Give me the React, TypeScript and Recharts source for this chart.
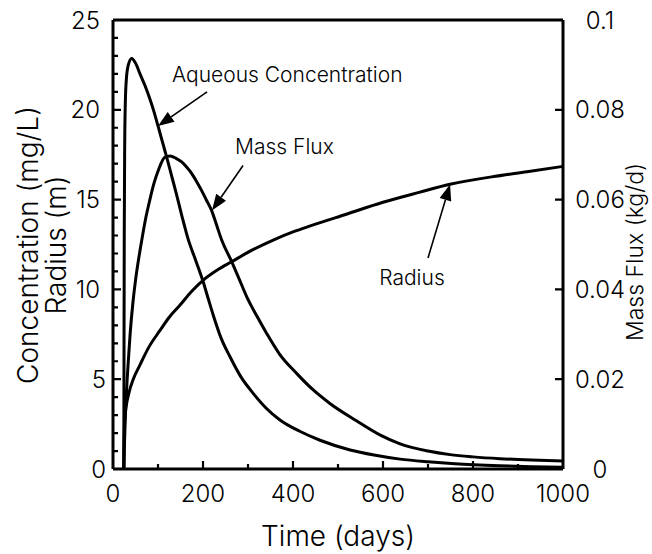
import React from 'react';
import { LineChart, Line, XAxis, YAxis, ReferenceLine } from 'recharts';

// Aqueous concentration (mg/L) vs time (days)
const aqueousTime = [24, 24.5, 25, 26, 27.5, 30, 34, 41.5, 50, 60, 71, 82, 91, 100, 110, 120, 130, 140, 153, 167, 184, 200.7, 212, 223, 240, 260, 285, 312, 340, 371, 415, 460, 527, 580, 638, 700, 760, 860, 930, 1000];
const aqueousConc = [0, 7, 13, 18, 20.5, 21.8, 22.5, 22.86, 22.6, 22.0, 21.35, 20.6, 19.9, 19.1, 18.2, 17.3, 16.35, 15.4, 14.1, 12.8, 11.6, 10.4, 9.45, 8.55, 7.3, 6.25, 5.1, 4.2, 3.4, 2.73, 2.1, 1.6, 1.06, 0.78, 0.55, 0.4, 0.29, 0.18, 0.13, 0.1];

// Mass flux (kg/d) vs time (days)
const fluxTime = [24, 25, 27, 30, 34, 38, 44, 50, 57, 64, 73, 82, 91, 101, 115, 127, 140, 152.6, 164, 175, 186, 197, 208, 219, 230, 241.5, 263.7, 280, 297, 320, 341.5, 370, 408, 445, 482, 540, 593, 638, 700, 749, 800, 860, 930, 1000];
const massFlux = [0, 0.004, 0.0104, 0.0172, 0.024, 0.030, 0.0368, 0.042, 0.0468, 0.051, 0.056, 0.060, 0.0636, 0.0666, 0.0694, 0.0697, 0.0692, 0.0684, 0.0672, 0.0658, 0.064, 0.062, 0.0598, 0.0576, 0.0544, 0.051, 0.0462, 0.0424, 0.0384, 0.034, 0.0302, 0.0256, 0.0213, 0.0176, 0.0146, 0.0108, 0.0076, 0.0056, 0.004, 0.0032, 0.0027, 0.0023, 0.002, 0.0018];

// Radius (m) vs time (days)
const radiusTime = [24, 24.5, 25, 27, 30, 35, 45, 60, 80, 104, 125, 149, 175, 200.7, 230, 263.7, 310, 356, 400, 440, 520, 600, 680, 749, 850, 920, 1000];
const radius = [0, 1.2, 2.0, 3.0, 3.6, 4.2, 5.0, 5.8, 6.8, 7.7, 8.45, 9.13, 9.9, 10.52, 11.05, 11.54, 12.2, 12.75, 13.2, 13.55, 14.2, 14.85, 15.4, 15.85, 16.3, 16.55, 16.85];

const xTicks = [0, 100, 200, 300, 400, 500, 600, 700, 800, 900, 1000];
const xLabelTicks = [0, 200, 400, 600, 800, 1000];
const leftTicks = [0, 1, 2, 3, 4, 5, 6, 7, 8, 9, 10, 11, 12, 13, 14, 15, 16, 17, 18, 19, 20, 21, 22, 23, 24, 25];
const leftLabelTicks = [0, 5, 10, 15, 20, 25];
const rightTicks = [0, 0.02, 0.04, 0.06, 0.08, 0.1];

const X_MAX = xTicks[xTicks.length - 1];
const LEFT_MAX = leftTicks[leftTicks.length - 1];
const RIGHT_MAX = rightTicks[rightTicks.length - 1];

// two reference points well inside the plot, used to map tick values to pixels
const REF_A = { x: xTicks[1], y: leftTicks[5] };
const REF_B = { x: xTicks[9], y: leftTicks[20] };

const aqueousData = aqueousTime.map((t, i) => ({ t, v: aqueousConc[i] }));
const fluxData = fluxTime.map((t, i) => ({ t, v: massFlux[i] }));
const radiusData = radiusTime.map((t, i) => ({ t, v: radius[i] }));

const FONT = 'Inter, "Liberation Sans", sans-serif';
const TEXT = { fontFamily: FONT, fontWeight: 300, fill: '#000' } as const;

const XTick = (props: any) => {
  const { x, y, payload } = props;
  if (!xLabelTicks.includes(payload.value)) return <g />;
  return (
    <text x={x} y={y + 33} textAnchor="middle" fontSize={24} {...TEXT}>
      {payload.value}
    </text>
  );
};

const LeftTick = (props: any) => {
  const { x, y, payload } = props;
  if (!leftLabelTicks.includes(payload.value)) return <g />;
  const gap = String(payload.value).length > 1 ? 13 : 7;
  return (
    <text x={x - gap} y={y + 8.5} textAnchor="end" fontSize={24} {...TEXT}>
      {payload.value}
    </text>
  );
};

const RightTick = (props: any) => {
  const { x, y, payload } = props;
  return (
    <text x={x + 37} y={y + 8.5} textAnchor="middle" fontSize={24} {...TEXT}>
      {payload.value === 0 ? '0' : String(payload.value)}
    </text>
  );
};

// inward tick marks; pixel positions come from the reference segment's two mapped points
const InwardTicks = (props: any) => {
  const { x1, y1, x2, y2 } = props;
  const kx = (x2 - x1) / (REF_B.x - REF_A.x);
  const ky = (y1 - y2) / (REF_B.y - REF_A.y);
  const px = (t: number) => x1 + (t - REF_A.x) * kx;
  const pyL = (v: number) => y1 - (v - REF_A.y) * ky;
  const pyR = (v: number) => pyL((v / RIGHT_MAX) * LEFT_MAX);
  const left = px(0);
  const right = px(X_MAX);
  const bottom = pyL(0);
  const d: string[] = [];
  xTicks.slice(1, -1).forEach((t) => {
    d.push(`M${px(t)},${bottom} V${bottom - (xLabelTicks.includes(t) ? 8 : 5)}`);
  });
  leftTicks.slice(1, -1).forEach((v) => {
    d.push(`M${left},${pyL(v)} H${left + (leftLabelTicks.includes(v) ? 8 : 5)}`);
  });
  rightTicks.slice(1, -1).forEach((v) => {
    d.push(`M${right},${pyR(v)} H${right - 8}`);
  });
  return <path d={d.join(' ')} stroke="#000" strokeWidth={2.2} fill="none" />;
};

const Arrow = (props: any) => {
  const { x1, y1, x2, y2, text, dx, dy, anchor } = props;
  const a = Math.atan2(y2 - y1, x2 - x1);
  const L = 16;
  const W = 6;
  const bx = x2 - L * Math.cos(a);
  const by = y2 - L * Math.sin(a);
  const pts = `${x2},${y2} ${bx + W * Math.sin(a)},${by - W * Math.cos(a)} ${bx - W * Math.sin(a)},${by + W * Math.cos(a)}`;
  return (
    <g>
      <line x1={x1} y1={y1} x2={bx} y2={by} stroke="#000" strokeWidth={1.6} />
      <polygon points={pts} fill="#000" />
      <text x={x1 + dx} y={y1 + dy} textAnchor={anchor} fontSize={21} {...TEXT}>
        {text}
      </text>
    </g>
  );
};

const LeftTitle = () => (
  <g>
    <text transform="translate(38,245) rotate(-90)" textAnchor="middle" fontSize={28} {...TEXT}>
      Concentration (mg/L)
    </text>
    <text transform="translate(66,245) rotate(-90)" textAnchor="middle" fontSize={28} {...TEXT}>
      Radius (m)
    </text>
  </g>
);

const RightTitle = () => (
  <text transform="translate(643,252) rotate(-90)" textAnchor="middle" fontSize={23} {...TEXT}>
    Mass Flux (kg/d)
  </text>
);

const BottomTitle = () => (
  <text x={338} y={546} textAnchor="middle" fontSize={28} {...TEXT}>
    Time (days)
  </text>
);

export default function App() {
  return (
    <div style={{ position: 'absolute', left: 0, top: 0, background: '#fff' }}>
      <LineChart width={652} height={554} margin={{ top: 20, right: 29, bottom: 45, left: 53 }}>
        <XAxis
          dataKey="t"
          type="number"
          domain={[0, X_MAX]}
          ticks={xTicks}
          interval={0}
          tickSize={0}
          tickMargin={0}
          tickLine={false}
          tick={<XTick />}
          height={40}
          axisLine={{ stroke: '#000', strokeWidth: 3 }}
          label={<BottomTitle />}
        />
        <YAxis
          yAxisId="left"
          type="number"
          domain={[0, LEFT_MAX]}
          ticks={leftTicks}
          interval={0}
          tickSize={0}
          tickMargin={0}
          tickLine={false}
          tick={<LeftTick />}
          width={60}
          axisLine={{ stroke: '#000', strokeWidth: 3 }}
          label={<LeftTitle />}
        />
        <YAxis
          yAxisId="right"
          orientation="right"
          type="number"
          domain={[0, RIGHT_MAX]}
          ticks={rightTicks}
          interval={0}
          tickSize={0}
          tickMargin={0}
          tickLine={false}
          tick={<RightTick />}
          width={60}
          axisLine={{ stroke: '#000', strokeWidth: 3 }}
          label={<RightTitle />}
        />
        <ReferenceLine yAxisId="left" y={LEFT_MAX} stroke="#000" strokeWidth={3} />
        <ReferenceLine
          yAxisId="left"
          segment={[REF_A, REF_B]}
          shape={(p: any) => <InwardTicks {...p} />}
        />
        <Line yAxisId="left" data={aqueousData} dataKey="v" type="monotone" dot={false} stroke="#000" strokeWidth={3} isAnimationActive={false} />
        <Line yAxisId="right" data={fluxData} dataKey="v" type="monotone" dot={false} stroke="#000" strokeWidth={3} isAnimationActive={false} />
        <Line yAxisId="left" data={radiusData} dataKey="v" type="monotone" dot={false} stroke="#000" strokeWidth={3} isAnimationActive={false} />
        <ReferenceLine
          yAxisId="left"
          segment={[{ x: 209, y: 21.0 }, { x: 100, y: 19.1 }]}
          shape={(p: any) => <Arrow {...p} text="Aqueous Concentration" dx={-35} dy={-10} anchor="start" />}
        />
        <ReferenceLine
          yAxisId="left"
          segment={[{ x: 289, y: 16.9 }, { x: 220, y: 14.4 }]}
          shape={(p: any) => <Arrow {...p} text="Mass Flux" dx={-8} dy={-11} anchor="start" />}
        />
        <ReferenceLine
          yAxisId="left"
          segment={[{ x: 700, y: 11.75 }, { x: 749, y: 15.85 }]}
          shape={(p: any) => <Arrow {...p} text="Radius" dx={-16} dy={27} anchor="middle" />}
        />
      </LineChart>
    </div>
  );
}
